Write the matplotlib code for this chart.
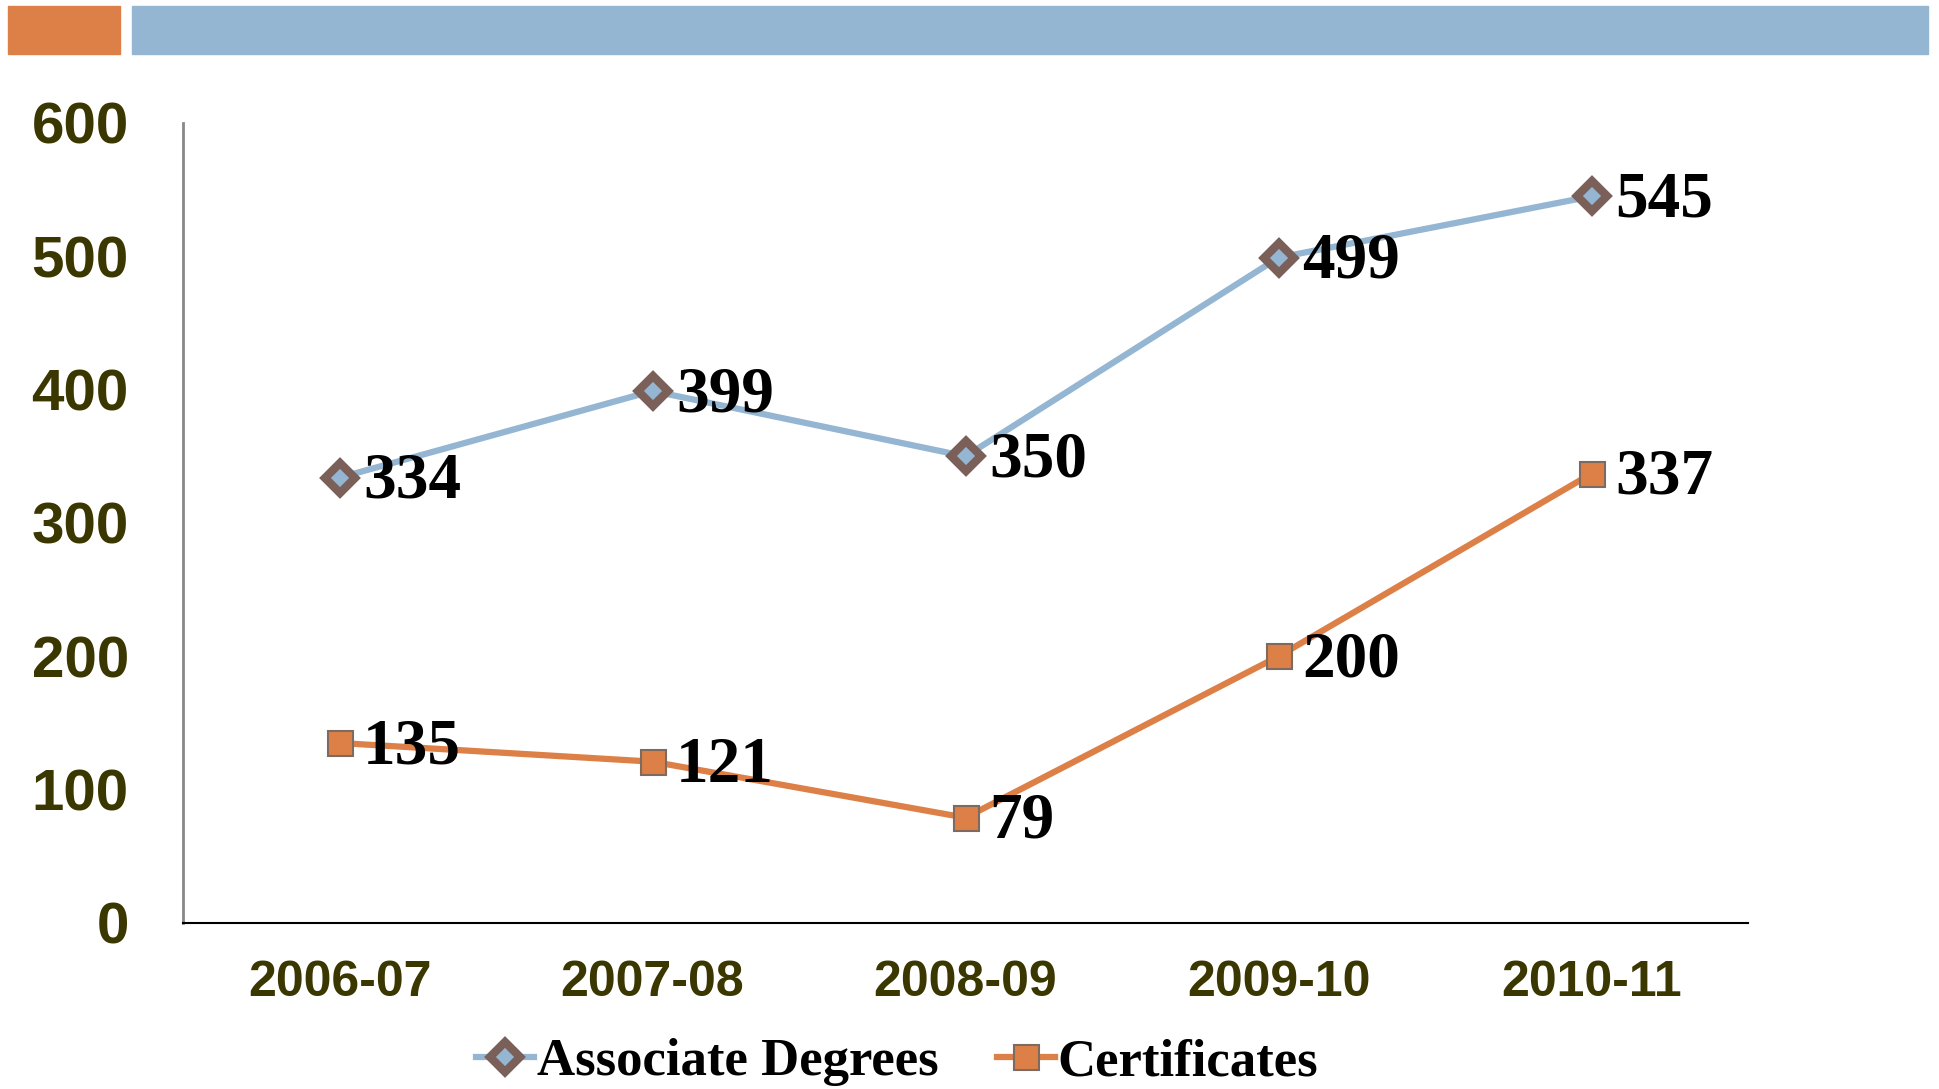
import matplotlib.pyplot as plt
from matplotlib.patches import Rectangle

# data
years = ['2006-07', '2007-08', '2008-09', '2009-10', '2010-11']
associate = [334, 399, 350, 499, 545]
certificates = [135, 121, 79, 200, 337]
yticks = [0, 100, 200, 300, 400, 500, 600]

blue = '#94b6d2'
orange = '#dd8047'
brown = '#7a6058'
tick_col = '#3b3700'

fig = plt.figure(figsize=(19.4, 10.89), dpi=100)

# header bars
fig.patches.append(Rectangle((8/1940, 1-54/1089), 112/1940, 48/1089,
                             transform=fig.transFigure, color=orange, zorder=0))
fig.patches.append(Rectangle((132/1940, 1-54/1089), 1796/1940, 48/1089,
                             transform=fig.transFigure, color=blue, zorder=0))

ax = fig.add_axes([183/1940, 1-923/1089, (1748-183)/1940, (923-123)/1089])
x = range(len(years))
ax.plot(x, associate, color=blue, lw=4.5, marker='D', ms=15,
        mfc=blue, mec=brown, mew=6, label='Associate Degrees', zorder=3)
ax.plot(x, certificates, color=orange, lw=4.5, marker='s', ms=18,
        mfc=orange, mec='#7f6a60', mew=1.5, label='Certificates', zorder=3)

for xi, v in zip(x, associate):
    ax.annotate(str(v), (xi, v), xytext=(17, -3), textcoords='offset points',
                ha='left', va='center', fontsize=47, fontweight='bold',
                family='Liberation Serif', color='black', zorder=4)
for xi, v in zip(x, certificates):
    ax.annotate(str(v), (xi, v), xytext=(17, -3), textcoords='offset points',
                ha='left', va='center', fontsize=47, fontweight='bold',
                family='Liberation Serif', color='black', zorder=4)

ax.set_xlim(-0.5, 4.5)
ax.set_ylim(0, 600)
ax.set_xticks(list(x))
ax.set_xticklabels(years)
ax.set_yticks(yticks)
ax.tick_params(length=0)
ax.tick_params(axis='y', pad=39)
ax.tick_params(axis='x', pad=27)
for lab in ax.get_yticklabels():
    lab.set_fontsize(42); lab.set_fontweight('bold'); lab.set_color(tick_col)
    lab.set_family('Liberation Sans')
for lab in ax.get_xticklabels():
    lab.set_fontsize(36); lab.set_fontweight('bold'); lab.set_color(tick_col)
    lab.set_family('Liberation Sans')

ax.spines['top'].set_visible(False)
ax.spines['right'].set_visible(False)
ax.spines['left'].set_color('#888888')
ax.spines['left'].set_linewidth(2)
ax.spines['bottom'].set_color('black')
ax.spines['bottom'].set_linewidth(1.5)

handles, labels = ax.get_legend_handles_labels()
fig.legend(handles, labels, loc='center', bbox_to_anchor=(897/1940, 1-1062/1089),
           ncol=2, frameon=False, handlelength=1.1, handletextpad=0.05,
           columnspacing=1.1, borderpad=0, borderaxespad=0,
           prop={'family': 'Liberation Serif', 'weight': 'bold', 'size': 38})

fig.savefig('out.png', dpi=100)
